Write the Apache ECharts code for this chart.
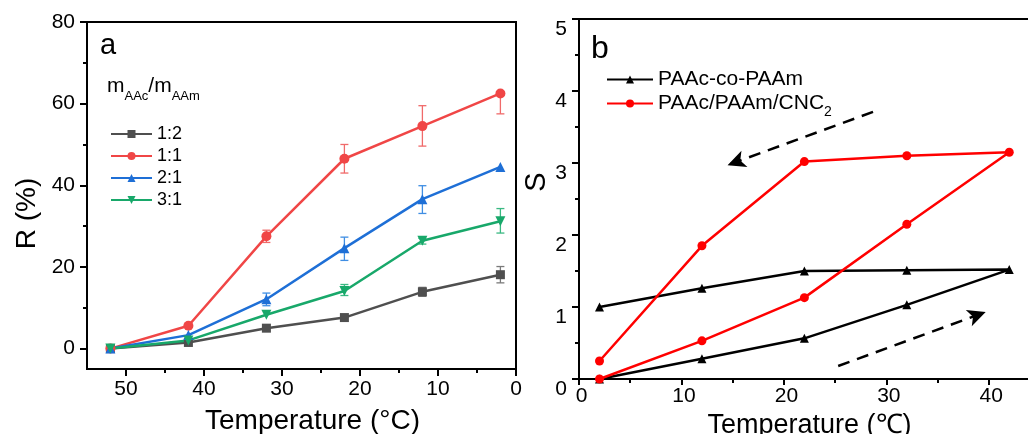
<!DOCTYPE html>
<html><head><meta charset="utf-8">
<script src="https://cdn.jsdelivr.net/npm/echarts@6/dist/echarts.min.js"></script>
<style>html,body{margin:0;padding:0;background:#fff}#c{width:1028px;height:434px}</style>
</head><body><div id="c"></div>
<script>
// ---------- Panel a data ----------
const tempA = [52, 42, 32, 22, 12, 2];
const namesA = ['1:2', '1:1', '2:1', '3:1'];
const r12 = [0, 1.5, 5.0, 7.6, 13.9, 18.1];
const r11 = [0, 5.6, 27.5, 46.5, 54.5, 62.5];
const r21 = [0, 3.3, 12.1, 24.6, 36.6, 44.5];
const r31 = [0, 2.0, 8.3, 14.1, 26.4, 31.2];
// error bars: [temperature, low, high]
const err12 = [[12, 12.8, 15.0], [2, 16.1, 20.1]];
const err11 = [[32, 26.0, 29.0], [22, 43.0, 50.0], [12, 49.6, 59.5], [2, 57.5, 62.5]];
const err21 = [[32, 10.5, 13.6], [22, 21.6, 27.3], [12, 33.1, 39.9]];
const err31 = [[22, 13.0, 15.7], [12, 25.6, 27.0], [2, 28.3, 34.3]];
const xTicksA = [0, 10, 20, 30, 40, 50];
const xMinorA = [5, 15, 25, 35, 45];
const yTicksA = [0, 20, 40, 60, 80];
const yMinorA = [10, 30, 50, 70];

// ---------- Panel b data ----------
const namesB = ['PAAc-co-PAAm', 'PAAc/PAAm/CNC2'];
const tempHeat = [2, 12, 22, 32, 42];
const tempCool = [32, 22, 12, 2];
const sCoHeat = [0, 0.28, 0.565, 1.03, 1.52];
const sCoCool = [1.51, 1.50, 1.26, 1.0];
const sCncHeat = [0, 0.53, 1.13, 2.15, 3.15];
const sCncCool = [3.10, 3.02, 1.85, 0.25];
const xTicksB = [0, 10, 20, 30, 40];
const xMinorB = [5, 15, 25, 35];
const yTicksB = [0, 1, 2, 3, 4, 5];
const yMinorB = [0.5, 1.5, 2.5, 3.5, 4.5];
// dashed direction arrows (data coords): [start, end]
const arrowCool = [[28.7, 3.71], [14.5, 2.97]];
const arrowHeat = [[25.3, 0.18], [39.7, 0.93]];

const FONT = "'Liberation Sans', Arial, sans-serif";

function loop(heatX, heatY, coolX, coolY) {
  return heatX.map((x, i) => [x, heatY[i]]).concat(coolX.map((x, i) => [x, coolY[i]]));
}
function pairs(xs, ys) { return xs.map((x, i) => [x, ys[i]]); }

function errRender(color) {
  return function (params, api) {
    const x = api.value(0), lo = api.value(1), hi = api.value(2);
    const a = api.coord([x, lo]), b = api.coord([x, hi]);
    const w = 4, st = { stroke: color, lineWidth: 1.3 };
    return { type: 'group', children: [
      { type: 'line', shape: { x1: a[0], y1: a[1], x2: b[0], y2: b[1] }, style: st },
      { type: 'line', shape: { x1: a[0] - w, y1: a[1], x2: a[0] + w, y2: a[1] }, style: st },
      { type: 'line', shape: { x1: b[0] - w, y1: b[1], x2: b[0] + w, y2: b[1] }, style: st }
    ]};
  };
}

const colA = { '1:2': '#4f4f4f', '1:1': '#f04646', '2:1': '#1e6fd6', '3:1': '#18a86a' };
const errCol = { '1:2': '#7a7a7a', '1:1': '#f06a6a', '2:1': '#3f8ee3', '3:1': '#3ab982' };
const symA = { '1:2': 'rect', '1:1': 'circle', '2:1': 'triangle', '3:1': 'path://M0,0 L10,0 L5,9 Z' };
const valsA = { '1:2': r12, '1:1': r11, '2:1': r21, '3:1': r31 };
const errsA = { '1:2': err12, '1:1': err11, '2:1': err21, '3:1': err31 };

const series = [];
namesA.forEach(n => {
  series.push({ type: 'custom', name: 'err' + n, xAxisIndex: 0, yAxisIndex: 0,
    renderItem: errRender(errCol[n]), data: errsA[n], z: 1, silent: true, encode: { x: 0, y: [1, 2] } });
});
namesA.forEach(n => {
  series.push({ type: 'line', name: n, xAxisIndex: 0, yAxisIndex: 0, data: pairs(tempA, valsA[n]),
    symbol: symA[n], symbolSize: n === '1:2' ? 9 : 10, clip: false, z: 3,
    lineStyle: { color: colA[n], width: 2.5 }, itemStyle: { color: colA[n] } });
});
series.push({ type: 'line', name: namesB[0], xAxisIndex: 1, yAxisIndex: 1,
  data: loop(tempHeat, sCoHeat, tempCool, sCoCool), symbol: 'triangle', symbolSize: 9, clip: false,
  lineStyle: { color: '#000', width: 2.5 }, itemStyle: { color: '#000' },
  markLine: { silent: true, symbol: ['none', 'arrow'], symbolSize: [13, 18], label: { show: false },
    lineStyle: { color: '#000', width: 2.5, type: [12, 8] },
    data: [
      [{ coord: arrowCool[0] }, { coord: arrowCool[1] }],
      [{ coord: arrowHeat[0] }, { coord: arrowHeat[1] }]
    ] } });
series.push({ type: 'line', name: namesB[1], xAxisIndex: 1, yAxisIndex: 1,
  data: loop(tempHeat, sCncHeat, tempCool, sCncCool), symbol: 'circle', symbolSize: 9, clip: false,
  lineStyle: { color: '#ff0000', width: 2.5 }, itemStyle: { color: '#ff0000' } });

const axLine = { show: true, onZero: false, lineStyle: { color: '#000', width: 2 } };
const noLine = { show: false, onZero: false };
function tickAx(len, vals) { return { show: true, inside: false, length: len, customValues: vals, lineStyle: { color: '#000', width: 2 } }; }
const gridA = { left: 87, top: 22, width: 429, height: 347, outerBoundsMode: 'none', containLabel: false };
const gridB = { left: 579, top: 19, width: 461, height: 360, outerBoundsMode: 'none', containLabel: false };

const option = {
  animation: false,
  textStyle: { fontFamily: FONT, color: '#000' },
  grid: [
    Object.assign({ show: true, borderColor: '#000', borderWidth: 2, backgroundColor: 'transparent' }, gridA),
    Object.assign({ show: true, borderColor: '#000', borderWidth: 2, backgroundColor: 'transparent' }, gridB),
    Object.assign({ show: false }, gridA),
    Object.assign({ show: false }, gridB)
  ],
  xAxis: [
    { gridIndex: 0, type: 'value', min: 0, max: 55, inverse: true, position: 'bottom',
      axisLine: axLine, axisTick: tickAx(7, xTicksA), splitLine: { show: false },
      axisLabel: { customValues: xTicksA, fontSize: 21, color: '#000', margin: 10 },
      name: 'Temperature (°C)', nameLocation: 'middle', nameGap: 38,
      nameTextStyle: { fontSize: 28, color: '#000', padding: [0, 0, 0, 22] } },
    { gridIndex: 1, type: 'value', min: 0, max: 45, position: 'bottom',
      axisLine: axLine, axisTick: tickAx(6, xTicksB), splitLine: { show: false },
      axisLabel: { customValues: xTicksB, fontSize: 21, color: '#000', margin: 7, padding: [0, 0, 0, 5] },
      name: 'Temperature (℃)', nameLocation: 'middle', nameGap: 31,
      nameTextStyle: { fontSize: 27, color: '#000' } },
    { gridIndex: 2, type: 'value', min: 0, max: 55, inverse: true, position: 'bottom',
      axisLine: noLine, axisTick: tickAx(4, xMinorA), splitLine: { show: false }, axisLabel: { show: false } },
    { gridIndex: 3, type: 'value', min: 0, max: 45, position: 'bottom',
      axisLine: noLine, axisTick: tickAx(4, xMinorB), splitLine: { show: false }, axisLabel: { show: false } }
  ],
  yAxis: [
    { gridIndex: 0, type: 'value', min: -5, max: 80, position: 'left',
      axisLine: axLine, axisTick: tickAx(7, yTicksA), splitLine: { show: false },
      axisLabel: { customValues: yTicksA, fontSize: 21, color: '#000', margin: 12 },
      name: 'R (%)', nameLocation: 'middle', nameGap: 46,
      nameTextStyle: { fontSize: 28, color: '#000', padding: [0, 36, 0, 0] } },
    { gridIndex: 1, type: 'value', min: 0, max: 5, position: 'left',
      axisLine: axLine, axisTick: tickAx(7, yTicksB), splitLine: { show: false },
      axisLabel: { customValues: yTicksB, fontSize: 21, color: '#000', margin: 12, verticalAlign: 'top' },
      name: 'S', nameLocation: 'middle', nameGap: 25,
      nameTextStyle: { fontSize: 29, color: '#000', padding: [0, 0, 0, 34] } },
    { gridIndex: 2, type: 'value', min: -5, max: 80, position: 'left',
      axisLine: noLine, axisTick: tickAx(4, yMinorA), splitLine: { show: false }, axisLabel: { show: false } },
    { gridIndex: 3, type: 'value', min: 0, max: 5, position: 'left',
      axisLine: noLine, axisTick: tickAx(4, yMinorB), splitLine: { show: false }, axisLabel: { show: false } }
  ],
  title: [
    { text: 'a', left: 100, top: 31, padding: 0, textStyle: { fontSize: 29, fontWeight: 'normal', fontFamily: FONT, color: '#000' } },
    { text: 'b', left: 591, top: 33, padding: 0, textStyle: { fontSize: 32, fontWeight: 'normal', fontFamily: FONT, color: '#000' } },
    { text: '{m|m}{s|AAc}{m|/m}{s|AAm}', left: 107, top: 70, padding: 0,
      textStyle: { fontWeight: 'normal', rich: {
        m: { fontSize: 21, lineHeight: 21, fontWeight: 'normal', fontFamily: FONT, color: '#000', verticalAlign: 'middle' },
        s: { fontSize: 13, lineHeight: 33, fontWeight: 'normal', fontFamily: FONT, color: '#000', verticalAlign: 'bottom' } } } }
  ],
  legend: [
    { data: namesA, orient: 'vertical', left: 110, top: 125, padding: 0, itemWidth: 41, itemHeight: 10, itemGap: 4,
      textStyle: { fontSize: 18, lineHeight: 18, fontFamily: FONT, color: '#000' }, selectedMode: false },
    { data: namesB, orient: 'vertical', left: 606, top: 69, padding: 0, itemWidth: 46, itemHeight: 10, itemGap: -2,
      selectedMode: false,
      formatter: n => n === 'PAAc/PAAm/CNC2' ? '{n|PAAc/PAAm/CNC}{s|2}' : '{n|' + n + '}{s| }',
      textStyle: { rich: {
        n: { fontSize: 21, lineHeight: 21, fontFamily: FONT, color: '#000', verticalAlign: 'middle' },
        s: { fontSize: 14, lineHeight: 31, fontFamily: FONT, color: '#000', verticalAlign: 'bottom' } } } }
  ],
  series: series
};
const chart = echarts.init(document.getElementById('c'), null, { renderer: 'canvas' });
chart.setOption(option);
</script></body></html>
